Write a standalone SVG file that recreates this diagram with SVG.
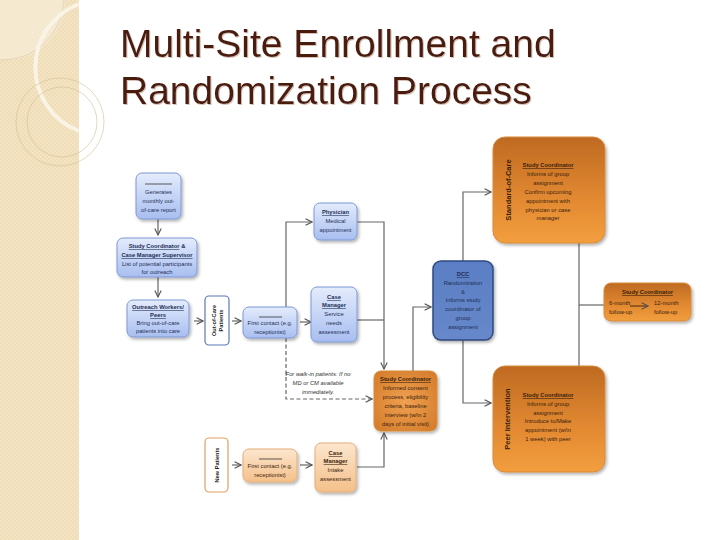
<svg xmlns="http://www.w3.org/2000/svg" width="720" height="540" viewBox="0 0 720 540">
<defs>
  <linearGradient id="gBlue" x1="0" y1="0" x2="0" y2="1">
    <stop offset="0" stop-color="#E4ECFC"/>
    <stop offset="1" stop-color="#A8BEF0"/>
  </linearGradient>
  <linearGradient id="gOrange" x1="0" y1="0" x2="0" y2="1">
    <stop offset="0" stop-color="#BE6A22"/>
    <stop offset="0.6" stop-color="#E38A32"/>
    <stop offset="1" stop-color="#F29E3E"/>
  </linearGradient>
  <radialGradient id="gOrangeR" cx="0.5" cy="0.5" r="0.7">
    <stop offset="0" stop-color="#F0A050"/>
    <stop offset="1" stop-color="#D27A2A"/>
  </radialGradient>
  <linearGradient id="gPeach" x1="0" y1="0" x2="0" y2="1">
    <stop offset="0" stop-color="#FCE6CE"/>
    <stop offset="1" stop-color="#F4C08A"/>
  </linearGradient>
  <linearGradient id="gDcc" x1="0" y1="0" x2="0" y2="1">
    <stop offset="0" stop-color="#5A7EC4"/>
    <stop offset="1" stop-color="#6788CA"/>
  </linearGradient>
  <filter id="sh" x="-20%" y="-20%" width="150%" height="150%">
    <feDropShadow dx="1.5" dy="2" stdDeviation="1.5" flood-color="#000" flood-opacity="0.3"/>
  </filter>
  <filter id="tsh" x="-5%" y="-5%" width="110%" height="120%">
    <feDropShadow dx="1" dy="1" stdDeviation="0.4" flood-color="#C8A898" flood-opacity="0.7"/>
  </filter>
  <marker id="ah" viewBox="0 0 10 10" refX="9" refY="5" markerWidth="8" markerHeight="8" markerUnits="userSpaceOnUse" orient="auto">
    <polyline points="1,1 9,5 1,9" fill="none" stroke="#555" stroke-width="1.4"/>
  </marker>
  <pattern id="tex" width="4" height="4" patternUnits="userSpaceOnUse">
    <rect width="4" height="4" fill="#EEDDB6"/>
    <rect width="2" height="2" fill="#F3E4C4"/>
    <rect x="2" y="2" width="2" height="2" fill="#F3E4C4"/>
  </pattern>
  <style>
    .t { font-family: "Liberation Sans", Arial, sans-serif; font-size: 5.8px; text-anchor: middle; fill: #2A2A3A; }
    .to { font-family: "Liberation Sans", Arial, sans-serif; font-size: 5.8px; text-anchor: middle; fill: #3A1E0C; }
    .tw { font-family: "Liberation Sans", Arial, sans-serif; font-size: 5.8px; text-anchor: middle; fill: #1E2E55; }
    .st { text-anchor: start; }
    .b { font-weight: bold; text-decoration: underline; }
    .side { font-family: "Liberation Sans", Arial, sans-serif; font-size: 7.5px; font-weight: bold; text-anchor: middle; fill: #3A1E0C; }
    .rv { font-family: "Liberation Sans", Arial, sans-serif; font-size: 5.6px; font-weight: bold; text-anchor: middle; fill: #222; }
    .blue { fill: url(#gBlue); stroke: #7E98D4; stroke-width: 1; filter: url(#sh); }
    .peach { fill: url(#gPeach); stroke: #E3AE78; stroke-width: 1; filter: url(#sh); }
    .org { fill: url(#gOrange); stroke: #D98B3A; stroke-width: 1; filter: url(#sh); }
    .conn { fill: none; stroke: #666; stroke-width: 1.2; }
    .title { font-family: "Liberation Sans", Arial, sans-serif; font-size: 39px; fill: #4A1A10; }
  </style>
</defs>

<rect width="720" height="540" fill="#FFFFFF"/>

<!-- left sidebar -->
<g id="sidebar">
  <rect x="0" y="0" width="79" height="540" fill="url(#tex)"/>
  <path d="M0,0 H65 A60,60 0 0 1 0,60 Z" fill="#F6ECD8" opacity="0.7"/>
  <path d="M0,60 A62,62 0 0 0 64,0" fill="none" stroke="#D8C6A0" stroke-width="0.6"/>
  <path d="M79,4 A68,68 0 0 0 79,131" fill="none" stroke="#FBF5EA" stroke-width="4" opacity="0.9"/>
  <circle cx="60" cy="122" r="44" fill="none" stroke="#D2BE96" stroke-width="0.6"/>
  <circle cx="62" cy="122" r="35" fill="none" stroke="#D2BE96" stroke-width="0.6"/>
</g>

<!-- title -->
<g id="title" filter="url(#tsh)">
  <text class="title" x="120" y="57">Multi-Site Enrollment and</text>
  <text class="title" x="120" y="104">Randomization Process</text>
</g>

<!-- connectors -->
<g id="connectors">
  <line class="conn" x1="158" y1="219" x2="158" y2="235" marker-end="url(#ah)"/>
  <line class="conn" x1="158" y1="277" x2="158" y2="297" marker-end="url(#ah)"/>
  <line class="conn" x1="194" y1="321" x2="203" y2="321" marker-end="url(#ah)"/>
  <line class="conn" x1="232" y1="321" x2="241" y2="321" marker-end="url(#ah)"/>
  <line class="conn" x1="300" y1="322" x2="311" y2="322" marker-end="url(#ah)"/>
  <polyline class="conn" points="286,307 286,222 312,222" marker-end="url(#ah)"/>
  <polyline class="conn" points="357,222 384,222 384,369" marker-end="url(#ah)"/>
  <polyline class="conn" points="357,320 384,320"/>
  <polyline class="conn" points="286,338 286,399 372,399" stroke-dasharray="4,2.5" marker-end="url(#ah)"/>
  <polyline class="conn" points="413,371 413,307 431,307" marker-end="url(#ah)"/>
  <polyline class="conn" points="463,261 463,192 491,192" marker-end="url(#ah)"/>
  <polyline class="conn" points="463,340 463,403 491,403" marker-end="url(#ah)"/>
  <line class="conn" x1="579" y1="243" x2="579" y2="366"/>
  <line class="conn" x1="579" y1="305" x2="604" y2="305"/>
  <line class="conn" x1="232" y1="465" x2="241" y2="465" marker-end="url(#ah)"/>
  <line class="conn" x1="300" y1="465" x2="312" y2="465" marker-end="url(#ah)"/>
  <polyline class="conn" points="357,467 384,467 384,433" marker-end="url(#ah)"/>
</g>

<!-- nodes -->
<g id="n-generates">
  <rect class="blue" x="136" y="173" width="45" height="46" rx="6"/>
  <line x1="145" y1="184" x2="172" y2="184" stroke="#333" stroke-width="0.8"/>
  <text class="tw" x="158.5" y="194">Generates</text>
  <text class="tw" x="158.5" y="203">monthly out-</text>
  <text class="tw" x="158.5" y="212">of-care report</text>
</g>

<g id="n-sc-cms">
  <rect class="blue" x="117" y="238" width="80" height="39" rx="6"/>
  <text class="tw" x="157" y="248"><tspan class="b">Study Coordinator</tspan><tspan font-weight="bold"> &amp;</tspan></text>
  <text class="tw b" x="157" y="257">Case Manager Supervisor</text>
  <text class="tw" x="157" y="266">List of potential participants</text>
  <text class="tw" x="157" y="274">for outreach</text>
</g>

<g id="n-outreach">
  <rect class="blue" x="127" y="300" width="62" height="37" rx="6"/>
  <text class="tw b" x="158" y="309">Outreach Workers/</text>
  <text class="tw b" x="158" y="317">Peers</text>
  <text class="tw" x="158" y="325">Bring out-of-care</text>
  <text class="tw" x="158" y="333">patients into care</text>
</g>

<g id="n-oocp">
  <rect x="205" y="296" width="24" height="49" rx="4" fill="#FFFFFF" stroke="#5A78B8" stroke-width="1.2"/>
  <text class="rv" transform="translate(215.5,320.5) rotate(-90)">Out-of-Care</text>
  <text class="rv" transform="translate(222.5,320.5) rotate(-90)">Patients</text>
</g>

<g id="n-first1">
  <rect class="blue" x="243" y="307" width="54" height="31" rx="6"/>
  <line x1="259" y1="317" x2="282" y2="317" stroke="#333" stroke-width="0.8"/>
  <text class="tw" x="270" y="325">First contact (e.g.</text>
  <text class="tw" x="270" y="334">receptionist)</text>
</g>

<g id="n-physician">
  <rect class="blue" x="314" y="203" width="43" height="37" rx="6"/>
  <text class="tw b" x="335.5" y="214">Physician</text>
  <text class="tw" x="335.5" y="223">Medical</text>
  <text class="tw" x="335.5" y="232">appointment</text>
</g>

<g id="n-cm1">
  <rect class="blue" x="311" y="287" width="46" height="55" rx="6"/>
  <text class="tw b" x="334" y="299">Case</text>
  <text class="tw b" x="334" y="307">Manager</text>
  <text class="tw" x="334" y="316">Service</text>
  <text class="tw" x="334" y="325">needs</text>
  <text class="tw" x="334" y="334">assessment</text>
</g>

<g id="n-walkin-label">
  <text class="to" x="318" y="376" font-style="italic" style="fill:#333">For walk-in patients: If no</text>
  <text class="to" x="318" y="385" font-style="italic" style="fill:#333">MD or CM available</text>
  <text class="to" x="318" y="394" font-style="italic" style="fill:#333">immediately.</text>
</g>

<g id="n-sc-consent">
  <rect x="374" y="371" width="63" height="60" rx="7" fill="url(#gOrangeR)" stroke="#D98B3A" filter="url(#sh)"/>
  <text class="to b" x="405.5" y="381">Study Coordinator</text>
  <text class="to" x="405.5" y="390">Informed consent</text>
  <text class="to" x="405.5" y="399">process, eligibility</text>
  <text class="to" x="405.5" y="408">criteria, baseline</text>
  <text class="to" x="405.5" y="417">interview (w/in 2</text>
  <text class="to" x="405.5" y="426">days of initial visit)</text>
</g>

<g id="n-dcc">
  <rect x="433" y="261" width="60" height="79" rx="8" fill="url(#gDcc)" stroke="#2E4A80" stroke-width="1.5" filter="url(#sh)"/>
  <text class="tw b" x="463" y="276">DCC</text>
  <text class="tw" x="463" y="285">Randomization</text>
  <text class="tw" x="463" y="294">&amp;</text>
  <text class="tw" x="463" y="302">Informs study</text>
  <text class="tw" x="463" y="311">coordinator of</text>
  <text class="tw" x="463" y="320">group</text>
  <text class="tw" x="463" y="329">assignment</text>
</g>

<g id="n-soc">
  <rect class="org" x="493" y="137" width="112" height="106" rx="12"/>
  <text class="side" transform="translate(511,190) rotate(-90)">Standard-of-Care</text>
  <text class="to b" x="548" y="167">Study Coordinator</text>
  <text class="to" x="548" y="176">Informs of group</text>
  <text class="to" x="548" y="185">assignment</text>
  <text class="to" x="548" y="194">Confirm upcoming</text>
  <text class="to" x="548" y="203">appointment with</text>
  <text class="to" x="548" y="212">physician or case</text>
  <text class="to" x="548" y="220">manager</text>
</g>

<g id="n-peer">
  <rect class="org" x="493" y="366" width="112" height="106" rx="12"/>
  <text class="side" transform="translate(510,419) rotate(-90)">Peer Intervention</text>
  <text class="to b" x="548" y="397">Study Coordinator</text>
  <text class="to" x="548" y="406">Informs of group</text>
  <text class="to" x="548" y="415">assignment</text>
  <text class="to" x="548" y="423">Introduce to/Make</text>
  <text class="to" x="548" y="432">appointment (w/in</text>
  <text class="to" x="548" y="441">1 week) with peer</text>
</g>

<g id="n-followup">
  <rect class="org" x="604" y="283" width="87" height="38" rx="7"/>
  <text class="to b" x="647.5" y="294">Study Coordinator</text>
  <text class="to st" x="609" y="305">6-month</text>
  <text class="to st" x="609" y="314">follow-up</text>
  <line x1="630" y1="306" x2="648" y2="306" stroke="#3A1E0C" stroke-width="0.9" marker-end="url(#ah)"/>
  <text class="to st" x="654" y="305">12-month</text>
  <text class="to st" x="654" y="314">follow-up</text>
</g>

<g id="n-newpatients">
  <rect x="205" y="438" width="23" height="54" rx="4" fill="#FFFFFF" stroke="#E0A060" stroke-width="1.2"/>
  <text class="rv" transform="translate(218.5,465) rotate(-90)">New Patients</text>
</g>

<g id="n-first2">
  <rect class="peach" x="243" y="449" width="54" height="33" rx="6"/>
  <line x1="259" y1="459" x2="282" y2="459" stroke="#333" stroke-width="0.8"/>
  <text class="to" x="270" y="468">First contact (e.g.</text>
  <text class="to" x="270" y="477">receptionist)</text>
</g>

<g id="n-cm2">
  <rect class="peach" x="315" y="443" width="41" height="49" rx="6"/>
  <text class="to b" x="335.5" y="455">Case</text>
  <text class="to b" x="335.5" y="463">Manager</text>
  <text class="to" x="335.5" y="472">Intake</text>
  <text class="to" x="335.5" y="481">assessment</text>
</g>
</svg>
